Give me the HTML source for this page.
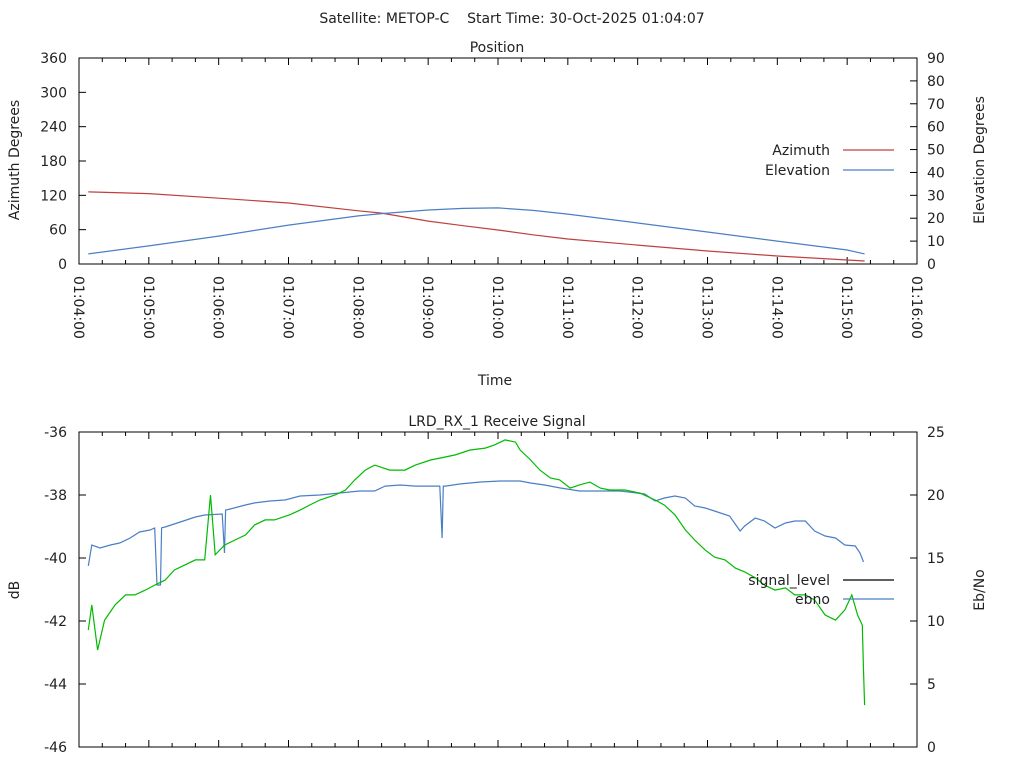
<!DOCTYPE html>
<html><head><meta charset="utf-8"><style>
body{margin:0;background:#fff}
svg{display:block;font-family:"DejaVu Sans","Liberation Sans",sans-serif;font-size:14px;fill:#222}
</style></head><body>
<svg id="c" width="1024" height="768" viewBox="0 0 1024 768">
<text x="512" y="23" text-anchor="middle" style="white-space:pre">Satellite: METOP-C    Start Time: 30-Oct-2025 01:04:07</text>
<text x="497" y="52" text-anchor="middle">Position</text>
<text x="495" y="385" text-anchor="middle">Time</text>
<text x="497" y="426" text-anchor="middle">LRD_RX_1 Receive Signal</text>
<text transform="translate(19,160) rotate(-90)" text-anchor="middle">Azimuth Degrees</text>
<text transform="translate(984,160) rotate(-90)" text-anchor="middle">Elevation Degrees</text>
<text transform="translate(19,590) rotate(-90)" text-anchor="middle">dB</text>
<text transform="translate(984,590) rotate(-90)" text-anchor="middle">Eb/No</text>
<g id="g"></g>
</svg>
<script>
// Position chart data (time in seconds after 01:04:00)
const posTimes=[8,60,120,180,240,260,300,330,360,390,420,480,540,600,660,675];
const azimuth=[126,123,115,106.6,93,89,75,67,59.4,51,43.7,33,22.7,14,7,5.2];
const elevation=[4.4,7.9,12.2,17.0,21.0,22.0,23.6,24.3,24.5,23.4,21.8,17.9,14,10,6.1,4.4];
const azTicks=[0,60,120,180,240,300,360];
const elTicks=[0,10,20,30,40,50,60,70,80,90];
const timeTicks=["01:04:00","01:05:00","01:06:00","01:07:00","01:08:00","01:09:00","01:10:00","01:11:00","01:12:00","01:13:00","01:14:00","01:15:00","01:16:00"];
// Signal chart data
const sigTimes=[8,11,16,22,31,40,48,57,65,74,82,91,100,108,113,117,125,134,143,151,160,168,181,190,198,207,220,229,237,246,254,267,280,289,302,310,323,336,349,357,366,375,379,388,396,405,413,422,430,439,448,456,469,482,495,503,512,521,529,538,546,555,564,572,581,589,598,607,615,624,632,641,650,658,664,669,673,674,675];
const signalDb=[-42.29,-41.49,-42.92,-41.97,-41.49,-41.17,-41.17,-41.02,-40.86,-40.70,-40.38,-40.22,-40.06,-40.06,-38.0,-39.90,-39.59,-39.43,-39.27,-38.95,-38.79,-38.79,-38.63,-38.48,-38.32,-38.16,-38.0,-37.84,-37.52,-37.21,-37.05,-37.21,-37.21,-37.05,-36.89,-36.83,-36.73,-36.57,-36.51,-36.41,-36.25,-36.32,-36.57,-36.89,-37.21,-37.46,-37.52,-37.78,-37.68,-37.59,-37.78,-37.84,-37.84,-37.94,-38.16,-38.32,-38.63,-39.11,-39.43,-39.75,-39.97,-40.06,-40.32,-40.44,-40.63,-40.86,-41.02,-40.95,-41.17,-41.17,-41.33,-41.81,-41.97,-41.65,-41.17,-41.81,-42.13,-43.56,-44.67];
const ebTimes=[8,11,18,27,35,44,52,61,65,67,70,71,74,87,100,108,123,125,126,130,143,151,164,177,190,207,224,241,254,263,276,289,310,312,313,315,327,345,362,379,388,400,413,430,448,465,486,495,503,512,521,529,538,546,559,568,572,581,589,598,607,615,624,632,641,650,658,667,671,674];
const ebno=[14.37,16.03,15.79,16.03,16.19,16.59,17.06,17.22,17.38,12.86,12.86,17.4,17.46,17.86,18.25,18.41,18.49,15.4,18.8,18.89,19.21,19.37,19.52,19.60,19.92,20.0,20.16,20.32,20.32,20.71,20.79,20.71,20.71,16.59,20.71,20.71,20.87,21.03,21.11,21.11,20.95,20.79,20.56,20.32,20.32,20.32,20.08,19.52,19.76,19.92,19.76,19.13,18.97,18.73,18.33,17.14,17.54,18.17,17.94,17.38,17.78,17.94,17.94,17.14,16.75,16.59,16.03,15.95,15.40,14.68];
const dbTicks=[-46,-44,-42,-40,-38,-36];
const ebTicks=[0,5,10,15,20,25];

const NS="http://www.w3.org/2000/svg";
const G=document.getElementById('g');
function mk(tag,at,parent){const e=document.createElementNS(NS,tag);for(const k in at)e.setAttribute(k,at[k]);(parent||G).appendChild(e);return e;}
const X0=79,X1=917,T1=720;
const xs=t=>X0+(t/T1)*(X1-X0);
const P1={top:58,bot:264},P2={top:432,bot:747};
const yAz=v=>P1.bot-v/360*(P1.bot-P1.top);
const yEl=v=>P1.bot-v/90*(P1.bot-P1.top);
const yDb=v=>P2.bot-(v+46)/10*(P2.bot-P2.top);
const yEb=v=>P2.bot-v/25*(P2.bot-P2.top);

function frame(P,name){
  const r=mk('rect',{x:X0,y:P.top,width:X1-X0,height:P.bot-P.top,fill:'none',stroke:'#000','stroke-width':1});
  
  
  for(let s=0;s<=T1;s+=20){
    const x=xs(s),len=(s%60===0)?7:4;
    const t1=mk('line',{x1:x,x2:x,y1:P.bot,y2:P.bot-len,stroke:'#000'});
    
    
    const t2=mk('line',{x1:x,x2:x,y1:P.top,y2:P.top+len,stroke:'#000'});
    
    
  }
}
function yticks(vals,fy,side,name){
  vals.forEach(v=>{
    const y=fy(v);
    const x=side==='l'?X0:X1;
    const l=mk('line',{x1:x,x2:side==='l'?x+7:x-7,y1:y,y2:y,stroke:'#000'});
    
    
    const t=mk('text',{x:side==='l'?x-12:x+10,y:y+5,'text-anchor':side==='l'?'end':'start'});
    t.textContent=v;
    
    
  });
}
function line(ts,vs,fy,color,name){
  const d=ts.map((t,i)=>(i?'L':'M')+xs(t).toFixed(1)+','+fy(vs[i]).toFixed(1)).join('');
  const p=mk('path',{d:d,fill:'none',stroke:color,'stroke-width':1.2});
  
  
}
function legend(label,y,color,name){
  const t=mk('text',{x:830,y:y+5,'text-anchor':'end'});
  t.textContent=label;
  
  
  const l=mk('line',{x1:843,x2:894,y1:y,y2:y,stroke:color,'stroke-width':1.2});
  
  
}
frame(P1,'position-plot-frame');
frame(P2,'signal-plot-frame');
yticks(azTicks,yAz,'l','azimuth');
yticks(elTicks,yEl,'r','elevation');
yticks(dbTicks,yDb,'l','db');
yticks(ebTicks,yEb,'r','ebno');
timeTicks.forEach((lab,i)=>{
  const x=xs(i*60);
  const t=mk('text',{transform:'translate('+(x-5)+',276) rotate(90)'});
  t.textContent=lab;
  
  
});
line(posTimes,azimuth,yAz,'#c04040','azimuth-line');
line(posTimes,elevation,yEl,'#4a7fc4','elevation-line');
line(ebTimes,ebno,yEb,'#4a7fc4','ebno-line');
line(sigTimes,signalDb,yDb,'#00bb00','signal-level-line');
legend('Azimuth',150,'#c04040','azimuth');
legend('Elevation',170,'#4a7fc4','elevation');
legend('signal_level',580,'#000','signal-level');
legend('ebno',599,'#4a7fc4','ebno');
</script>
</body></html>
